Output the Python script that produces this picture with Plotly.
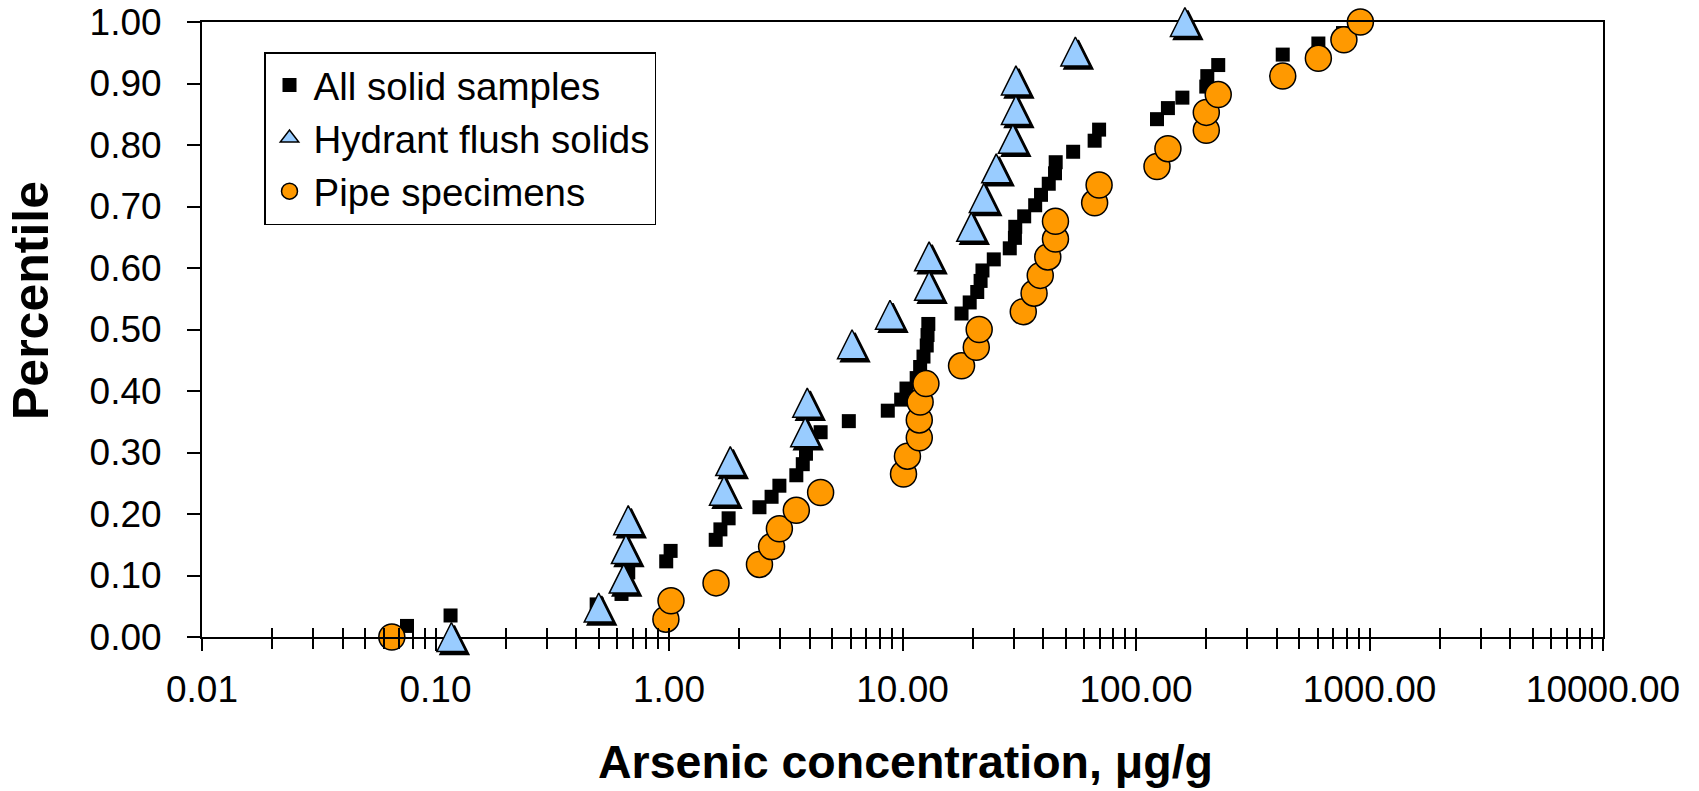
import plotly.graph_objects as go

# ---------------- data ----------------
all_x = [0.065, 0.0755, 0.116, 0.49, 0.626, 0.654, 0.669, 0.973, 1.016, 1.585,
         1.66, 1.80, 2.44, 2.75, 2.97, 3.51, 3.74, 3.86, 3.95, 4.46,
         5.89, 8.65, 9.87, 10.4, 11.5, 11.9, 12.3, 12.7, 12.8, 12.9,
         17.9, 19.4, 20.9, 21.6, 22.0, 24.6, 28.8, 30.3, 30.4, 33.2,
         37.0, 39.2, 42.3, 45.0, 45.3, 53.8, 66.5, 69.5, 123, 137,
         158, 200, 202, 225, 425, 604, 770, 914]
all_p = [0.000, 0.018, 0.035, 0.053, 0.070, 0.088, 0.105, 0.123, 0.140, 0.158,
         0.175, 0.193, 0.211, 0.228, 0.246, 0.263, 0.281, 0.298, 0.316, 0.333,
         0.351, 0.368, 0.386, 0.404, 0.421, 0.439, 0.456, 0.474, 0.491, 0.509,
         0.526, 0.544, 0.561, 0.579, 0.596, 0.614, 0.632, 0.649, 0.667, 0.684,
         0.702, 0.719, 0.737, 0.754, 0.772, 0.789, 0.807, 0.825, 0.842, 0.860,
         0.877, 0.895, 0.912, 0.930, 0.947, 0.965, 0.982, 1.000]

hydrant_x = [0.117, 0.50, 0.64, 0.654, 0.669, 1.72, 1.83, 3.83, 3.91, 6.08,
             8.84, 13.0, 13.0, 19.7, 22.3, 25.2, 29.7, 30.6, 30.6, 55.0, 162]
hydrant_p = [0.000, 0.048, 0.095, 0.143, 0.190, 0.238, 0.286, 0.333, 0.381, 0.476,
             0.524, 0.571, 0.619, 0.667, 0.714, 0.762, 0.810, 0.857, 0.905, 0.952, 1.000]

pipe_x = [0.065, 0.97, 1.02, 1.59, 2.44, 2.75, 2.97, 3.51, 4.46, 10.1,
          10.5, 11.8, 11.8, 11.9, 12.6, 17.9, 20.7, 21.3, 32.9, 36.6,
          38.9, 41.9, 45.2, 45.2, 66.5, 69.5, 123, 137, 200, 200,
          225, 425, 604, 777, 914]
pipe_p = [0.000, 0.029, 0.059, 0.088, 0.118, 0.147, 0.176, 0.206, 0.235, 0.265,
          0.294, 0.324, 0.353, 0.382, 0.412, 0.441, 0.471, 0.500, 0.529, 0.559,
          0.588, 0.618, 0.647, 0.676, 0.706, 0.735, 0.765, 0.794, 0.824, 0.853,
          0.882, 0.912, 0.941, 0.971, 1.000]

series_names = ["All solid samples", "Hydrant flush solids", "Pipe specimens"]

x_tick_vals = [0.01, 0.1, 1, 10, 100, 1000, 10000]
x_tick_text = ["0.01", "0.10", "1.00", "10.00", "100.00", "1000.00", "10000.00"]
y_tick_vals = [0.0, 0.1, 0.2, 0.3, 0.4, 0.5, 0.6, 0.7, 0.8, 0.9, 1.0]
y_tick_text = ["0.00", "0.10", "0.20", "0.30", "0.40", "0.50",
               "0.60", "0.70", "0.80", "0.90", "1.00"]
x_title = "Arsenic concentration, \u03bcg/g"
y_title = "Percentile"

# ---------------- layout geometry ----------------
W, H = 1699, 791
ML, MR, MT, MB = 202, 96, 0, 154
PW = W - ML - MR            # plot width (px)
PA = H - MT - MB            # paper-area height (px)
PH = 615                    # main plot height (px), top of frame at y = PA - PH
XR = [-2, 4]
YR = [0, 1]
TRI = 29                    # triangle marker size (px)
SHADOW = 3                  # triangle shadow offset (px)

span = (YR[1] - YR[0]) * PA / PH
tri_lo = YR[0] - (TRI / 2) / PH * (YR[1] - YR[0])
sh_lo = YR[0] - (TRI / 2 - SHADOW) / PH * (YR[1] - YR[0])
sh_dx = SHADOW / PW * (XR[1] - XR[0])

minor_vals = [m * 10 ** e for e in range(-2, 4) for m in range(2, 10)]

FONT = "Liberation Sans, Arial, Helvetica, sans-serif"
BLUE = "#99CCFF"
ORANGE = "#FF9900"

fig = go.Figure()

fig.add_trace(go.Scatter(
    x=all_x, y=all_p, mode="markers", name=series_names[0], legendgroup="a",
    marker=dict(symbol="square", size=14, color="black", line=dict(width=0)),
    cliponaxis=False, xaxis="x", yaxis="y"))

# legend entry for triangles (markers are drawn on their own offset axes below)
fig.add_trace(go.Scatter(
    x=[None], y=[None], mode="markers", name=series_names[1], legendgroup="b",
    marker=dict(symbol="triangle-up", size=16, color=BLUE,
                line=dict(width=1.5, color="black")),
    xaxis="x4", yaxis="y"))

fig.add_trace(go.Scatter(
    x=pipe_x, y=pipe_p, mode="markers", name=series_names[2], legendgroup="c",
    marker=dict(symbol="circle", size=26, color=ORANGE,
                line=dict(width=1.5, color="black")),
    cliponaxis=False, xaxis="x", yaxis="y"))

# shadow of triangles
fig.add_trace(go.Scatter(
    x=hydrant_x, y=hydrant_p, mode="markers", showlegend=False,
    marker=dict(symbol="arrow-up", size=TRI, color="black",
                line=dict(width=1.5, color="black")),
    cliponaxis=False, xaxis="x2", yaxis="y2", hoverinfo="skip"))

# triangles
fig.add_trace(go.Scatter(
    x=hydrant_x, y=hydrant_p, mode="markers", showlegend=False, name=series_names[1],
    marker=dict(symbol="arrow-up", size=TRI, color=BLUE,
                line=dict(width=1.5, color="black")),
    cliponaxis=False, xaxis="x3", yaxis="y3"))

hidden = dict(visible=False, showgrid=False, zeroline=False, fixedrange=True,
              automargin=False)

fig.update_layout(
    width=W, height=H,
    margin=dict(l=ML, r=MR, t=MT, b=MB, pad=0),
    paper_bgcolor="white", plot_bgcolor="rgba(0,0,0,0)",
    font=dict(family=FONT, size=37, color="black"),
    showlegend=True,
    legend=dict(
        x=(264 - ML) / PW, y=1 - 52 / PA, xanchor="left", yanchor="top",
        bgcolor="white", bordercolor="black", borderwidth=1.5,
        font=dict(family=FONT, size=38.5, color="black"),
        traceorder="grouped", tracegroupgap=0, itemwidth=38,
    ),
    xaxis=dict(
        type="log", range=XR, domain=[0, 1], showgrid=False, zeroline=False,
        showline=True, linecolor="black", linewidth=1.5, mirror=True,
        ticks="outside", ticklen=12, tickwidth=1.5, tickcolor="black",
        tickmode="array", tickvals=x_tick_vals, ticktext=x_tick_text,
        tickfont=dict(family=FONT, size=37, color="black"),
        ticklabelstandoff=7, automargin=False,
        minor=dict(tickmode="array", tickvals=minor_vals, ticks="outside",
                   ticklen=10, tickwidth=1.5, tickcolor="black", showgrid=False),
        fixedrange=True,
    ),
    yaxis=dict(
        range=YR, domain=[0, PH / PA], showgrid=False, zeroline=False,
        showline=True, linecolor="black", linewidth=2, mirror=True,
        ticks="outside", ticklen=13, tickwidth=1.5, tickcolor="black",
        tickmode="array", tickvals=y_tick_vals, ticktext=y_tick_text,
        tickfont=dict(family=FONT, size=37, color="black"),
        ticklabelstandoff=18, automargin=False,
        fixedrange=True,
    ),
    xaxis2=dict(type="log", anchor="y2", domain=[0, 1],
                range=[XR[0] - sh_dx, XR[1] - sh_dx], **hidden),
    yaxis2=dict(anchor="x2", domain=[0, 1], range=[sh_lo, sh_lo + span], **hidden),
    xaxis3=dict(type="log", anchor="y3", domain=[0, 1], range=XR, **hidden),
    yaxis3=dict(anchor="x3", domain=[0, 1], range=[tri_lo, tri_lo + span], **hidden),
    xaxis4=dict(type="log", overlaying="x", anchor="y", side="bottom", range=XR,
                showgrid=False, zeroline=False, showline=False,
                ticks="inside", ticklen=9, tickwidth=1.5, tickcolor="black",
                tickmode="array", tickvals=x_tick_vals + minor_vals,
                showticklabels=False, fixedrange=True, automargin=False),
    annotations=[
        dict(text="<b>%s</b>" % x_title, xref="paper", yref="paper",
             x=(905 - ML) / PW, y=(PA - 790) / PA, xanchor="center", yanchor="bottom",
             showarrow=False, font=dict(family=FONT, size=46.5, color="black")),
        dict(text="<b>%s</b>" % y_title, xref="paper", yref="paper",
             x=(31 - ML) / PW, y=(PA - 301) / PA, xanchor="center", yanchor="middle",
             textangle=-90, showarrow=False,
             font=dict(family=FONT, size=50, color="black")),
    ],
)

fig.write_html("out.html")
